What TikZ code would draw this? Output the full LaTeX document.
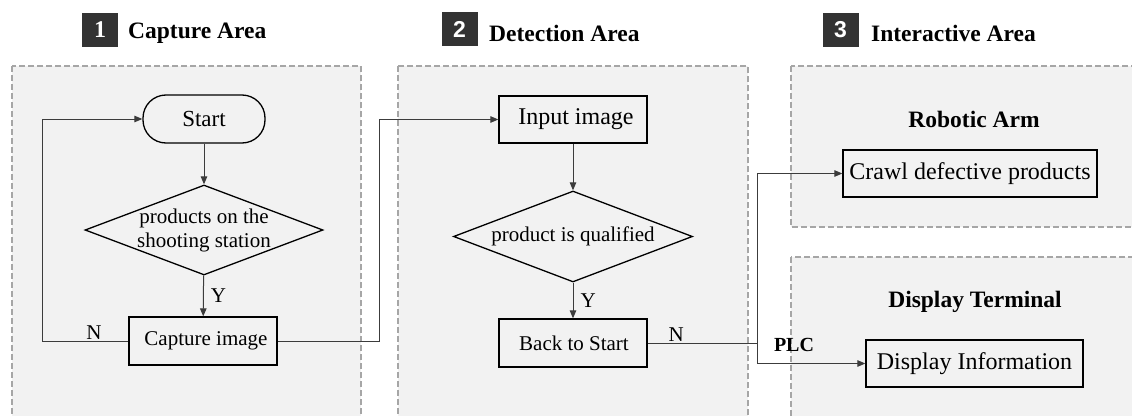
\documentclass[tikz,border=0pt]{standalone}
\usepackage{fontspec}
\setmainfont{Liberation Serif}
\newfontfamily\digitsans{Liberation Sans}
\usetikzlibrary{shapes.geometric,arrows.meta}
\definecolor{panelfill}{HTML}{F2F2F2}
\definecolor{paneldash}{HTML}{A6A6A6}
\definecolor{numgray}{HTML}{333333}
\definecolor{linegray}{HTML}{3C3C3C}
\begin{document}
\begin{tikzpicture}[x=1pt,y=-1pt,
  panel/.style={fill=panelfill,draw=paneldash,line width=1.5pt,dash pattern=on 6pt off 3pt},
  numbox/.style={fill=numgray,text=white,minimum width=36pt,minimum height=34pt,inner sep=0pt,font=\bfseries\fontsize{24}{24}\selectfont},
  title/.style={font=\bfseries\fontsize{23.5}{26}\selectfont,inner sep=0pt},
  procbox/.style={draw=black,line width=1.3pt,fill=panelfill,inner sep=0pt},
  startbox/.style={procbox,rounded corners=23pt},
  dia/.style={draw=black,line width=1.3pt,fill=panelfill,shape=diamond,inner sep=0pt},
  lab/.style={font=\fontsize{21}{24}\selectfont,inner sep=1pt},
  plc/.style={font=\bfseries\fontsize{20}{22}\selectfont,inner sep=0pt},
  conn/.style={draw=linegray,line width=1pt},
  arr/.style={conn,-{Triangle[length=8pt,width=6.5pt]}}
]
\useasboundingbox (0,0) rectangle (1132,415);
\clip (0,0) rectangle (1132,415);
% panels
\path[panel] (12,66) rectangle (361,430);
\path[panel] (398,66) rectangle (748,430);
\path[panel] (791,66) rectangle (1145,227);
\path[panel] (791,257) rectangle (1145,430);
% titles
\node[numbox] (n1) at (100,30) {1};
\node[title,anchor=west] (t1) at (128,33) {Capture Area};
\node[numbox,font=\digitsans\bfseries\fontsize{23}{23}\selectfont] (n2) at (459.5,29) {2};
\node[title,anchor=west] (t2) at (489,33) {Detection Area};
\node[numbox,font=\digitsans\bfseries\fontsize{23}{23}\selectfont] (n3) at (840.5,30) {3};
\node[title,anchor=west] (t3) at (871,33) {Interactive Area};
\node[title] (ra) at (974,119) {Robotic Arm};
\node[title] (dt) at (975,302) {Display Terminal};
% flow nodes
\node[startbox,minimum width=122pt,minimum height=48pt,font=\fontsize{23}{26}\selectfont] (start) at (204,119) {Start};
\node[dia,minimum width=238pt,minimum height=90pt] (d1) at (204,230) {};
\node[lab,align=center,font=\fontsize{21}{24}\selectfont] (d1t) at (d1.center) {products on the\\shooting station};
\node[procbox,minimum width=148pt,minimum height=48pt,font=\fontsize{21}{24}\selectfont] (cap) at (203,341) {\hspace{6pt}Capture image};
\node[procbox,minimum width=148pt,minimum height=47pt,font=\fontsize{24}{27}\selectfont] (in) at (573,119.5) {\hspace{6pt}Input image};
\node[dia,minimum width=239pt,minimum height=91pt] (d2) at (573,236.5) {};
\node[lab,font=\fontsize{21}{24}\selectfont] (d2t) at (d2.center) {product is qualified};
\node[procbox,minimum width=148pt,minimum height=48pt,font=\fontsize{21}{24}\selectfont] (back) at (573,343) {\hspace{2pt}Back to Start};
\node[procbox,minimum width=254pt,minimum height=47pt,font=\fontsize{24}{27}\selectfont] (crawl) at (970,173.5) {Crawl defective products};
\node[procbox,minimum width=217pt,minimum height=47pt,font=\fontsize{24}{27}\selectfont] (disp) at (974.5,363.5) {Display Information};
% connectors
\draw[arr] (start) -- (d1);
\draw[arr] (d1) -- node[lab,right=6pt,pos=0.5] {Y} (cap);
\draw[arr] (cap.west) -- node[lab,above,pos=0.4] {N} ++(-86,0) |- (start.west);
\draw[arr] (cap.east) -- ++(102,0) |- (in.west);
\draw[arr] (in) -- (d2);
\draw[arr] (d2) -- node[lab,right=6pt,pos=0.5] {Y} (back);
\coordinate (j) at (757,343);
\draw[conn] (back.east) -- node[lab,above,pos=0.26] {N} (j);
\draw[arr] (j) |- (crawl.west);
\draw[arr] (j) |- (disp.west);
\node[plc] (plc) at (794,345) {PLC};
\end{tikzpicture}
\end{document}
